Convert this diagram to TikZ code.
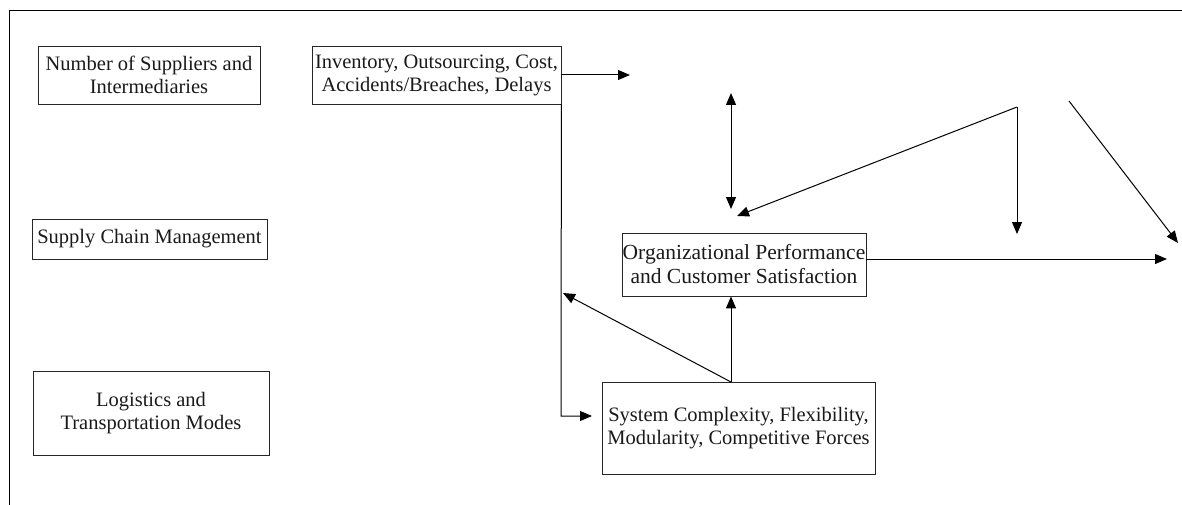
\documentclass[tikz,border=0pt]{standalone}
\usepackage{fontspec}
\setmainfont{Liberation Serif}
\usetikzlibrary{arrows.meta}
\begin{document}
\begin{tikzpicture}[x=1pt,y=-1pt,
  box/.style={draw=black!85,line width=0.8pt,inner sep=0pt,align=center,
    text=black!90,font=\fontsize{20.5}{23}\selectfont},
  arr/.style={line width=1pt,-{Triangle[length=12pt,width=10pt]}},
  dblarr/.style={line width=1pt,{Triangle[length=12pt,width=10pt]}-{Triangle[length=12pt,width=10pt]}},
]
\useasboundingbox (0,0) rectangle (1182,505);
\draw[line width=0.8pt] (1182,10) -- (9,10) -- (9,505);

\node[box,minimum width=222pt,minimum height=58pt] (A) at (149,75)
  {Number of Suppliers and\\Intermediaries};
\node[box,minimum width=249pt,minimum height=58pt] (B) at (436.5,75)
  {Inventory, Outsourcing, Cost,\\Accidents/Breaches, Delays};
\node[box,minimum width=235pt,minimum height=40pt] (C) at (149.5,239)
  {Supply Chain Management};
\node[box,minimum width=236pt,minimum height=84pt] (D) at (151,413)
  {Logistics and\\Transportation Modes};
\node[box,minimum width=244pt,minimum height=63pt,font=\fontsize{21.5}{24}\selectfont] (E) at (744,264.5)
  {Organizational Performance\\and Customer Satisfaction};
\node[box,minimum width=273pt,minimum height=92pt] (F) at (738.5,428)
  {System Complexity, Flexibility,\\Modularity, Competitive Forces};

\coordinate (bout) at (630,75);
\coordinate (bend) at (561,416);
\coordinate (ftip) at (592,416);
\coordinate (d1) at (731,93);
\coordinate (d2) at (731,209);
\coordinate (V) at (1017,107);
\coordinate (vt1) at (737,216);
\coordinate (vt2) at (1017,234);
\coordinate (r1) at (1069,101);
\coordinate (r2) at (1178,243);
\coordinate (eout) at (1167,259);
\coordinate (ftop) at (731,382);
\coordinate (ltip) at (563,293);

\draw[arr] (B.east) -- (bout);
\draw[arr] (B.south east) -- (bend) -- (ftip);
\draw[dblarr] (d1) -- (d2);
\draw[arr] (V) -- (vt1);
\draw[arr] (V) -- (vt2);
\draw[arr] (r1) -- (r2);
\draw[arr] (E.east |- eout) -- (eout);
\draw[arr] (ftop) -- (ftop |- E.south);
\draw[arr] (ftop) -- (ltip);
\end{tikzpicture}
\end{document}
